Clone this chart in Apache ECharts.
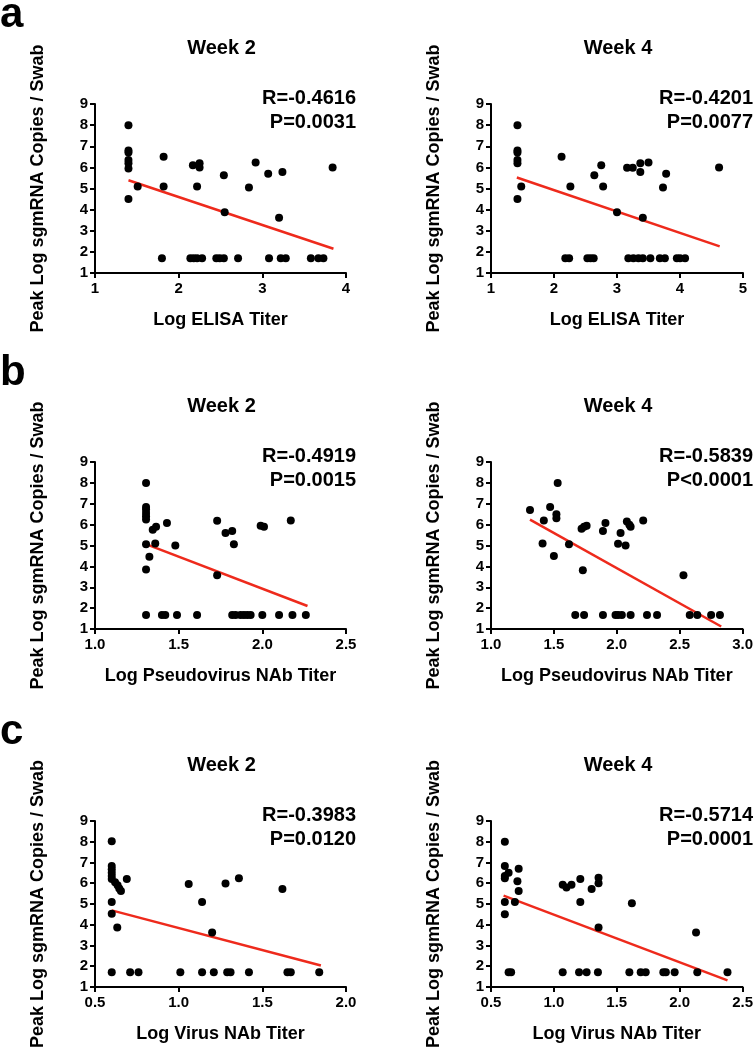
<!DOCTYPE html>
<html><head><meta charset="utf-8">
<script src="https://cdn.jsdelivr.net/npm/echarts@6/dist/echarts.min.js"></script>
<style>html,body{margin:0;padding:0;background:#fff}#c{width:756px;height:1050px}</style>
</head><body><div id="c"></div>
<script>
// ---- Data ----
const yTitle = 'Peak Log sgmRNA Copies / Swab';

// a: ELISA, Week 2
const aW2X = [1.40,1.40,1.40,1.40,1.40,1.40,1.40,1.51,1.82,1.82,1.80,2.17,2.25,2.25,2.22,2.14,2.18,2.22,2.28,2.54,2.55,2.45,2.49,2.54,2.71,2.84,2.92,3.07,3.08,3.24,3.20,3.22,3.28,3.58,3.67,3.73,3.84];
const aW2Y = [8.0,6.8,6.7,6.35,6.2,5.95,4.5,5.1,6.5,5.1,1.7,6.1,6.2,6.0,5.1,1.7,1.7,1.7,1.7,5.63,3.87,1.7,1.7,1.7,1.7,5.05,6.23,5.7,1.7,5.78,3.62,1.7,1.7,1.7,1.7,1.7,6.0];
const aW2Fit = [[1.40,5.39],[3.85,2.15]];
// a: ELISA, Week 4
const aW4X = [1.42,1.42,1.42,1.42,1.42,1.42,1.48,2.12,2.26,2.18,2.24,2.53,2.58,2.63,2.64,2.75,2.78,3.00,3.16,3.25,3.37,3.37,3.50,3.41,3.18,3.26,3.34,3.41,3.53,3.68,3.76,3.73,3.78,3.95,4.00,4.08,4.62];
const aW4Y = [8.0,6.8,6.7,6.35,6.2,4.5,5.1,6.5,5.1,1.7,1.7,1.7,1.7,1.7,5.63,6.1,5.1,3.87,5.98,5.98,6.2,5.78,6.23,3.62,1.7,1.7,1.7,1.7,1.7,1.7,1.7,5.05,5.7,1.7,1.7,1.7,6.0];
const aW4Fit = [[1.41,5.52],[4.63,2.26]];

// b: Pseudovirus NAb, Week 2
const bW2X = [1.305,1.305,1.305,1.305,1.305,1.305,1.305,1.305,1.305,1.325,1.345,1.365,1.36,1.43,1.48,1.40,1.42,1.49,1.61,1.73,1.73,1.78,1.82,1.83,1.82,1.84,1.87,1.89,1.91,1.93,1.99,2.01,2.00,2.10,2.17,2.18,2.26];
const bW2Y = [8.0,6.85,6.72,6.56,6.4,6.24,5.06,3.85,1.67,4.46,5.76,5.9,5.1,6.08,5.0,1.67,1.67,1.67,1.67,6.18,3.58,5.6,5.7,5.06,1.67,1.67,1.67,1.67,1.67,1.67,5.95,5.9,1.67,1.67,6.2,1.67,1.67];
const bW2Fit = [[1.32,5.02],[2.27,2.10]];
// b: Pseudovirus NAb, Week 4
const bW4X = [1.31,1.42,1.41,1.47,1.50,1.52,1.52,1.53,1.62,1.67,1.74,1.72,1.74,1.76,1.73,1.89,1.91,1.89,1.99,2.01,2.04,2.01,2.03,2.07,2.08,2.10,2.11,2.11,2.21,2.24,2.32,2.53,2.58,2.64,2.75,2.82];
const bW4Y = [6.7,6.2,5.1,6.85,4.5,6.5,6.3,8.0,5.06,1.67,1.67,5.8,5.9,5.95,3.82,5.7,6.08,1.67,1.67,1.67,1.67,5.08,5.6,5.0,6.15,6.0,5.9,1.67,6.2,1.67,1.67,3.58,1.67,1.67,1.67,1.67];
const bW4Fit = [[1.31,6.24],[2.83,1.12]];

// c: Virus NAb, Week 2
const cW2X = [0.60,0.60,0.60,0.60,0.60,0.60,0.60,0.60,0.633,0.62,0.635,0.645,0.655,0.69,0.60,0.71,0.76,1.06,1.14,1.20,1.28,1.36,1.62,1.01,1.14,1.21,1.29,1.31,1.42,1.65,1.67,1.84];
const cW2Y = [8.02,6.83,6.67,6.5,6.35,6.2,5.09,4.53,3.87,6.05,5.9,5.75,5.63,6.2,1.71,1.71,1.71,5.96,5.09,3.63,5.99,6.24,5.72,1.71,1.71,1.71,1.71,1.71,1.71,1.71,1.71,1.71];
const cW2Fit = [[0.60,4.69],[1.85,2.03]];
// c: Virus NAb, Week 4
const cW4X = [0.61,0.61,0.64,0.61,0.61,0.61,0.61,0.69,0.72,0.71,0.72,0.64,0.66,1.07,1.10,1.14,1.21,1.21,1.30,1.355,1.355,1.355,1.07,1.20,1.26,1.35,1.60,1.62,1.69,1.73,1.87,1.89,1.96,2.13,2.14,2.38];
const cW4Y = [8.0,6.83,6.5,6.35,6.24,5.09,4.5,5.09,6.7,6.1,5.63,1.71,1.71,5.93,5.8,5.93,6.2,5.09,5.72,6.27,6.0,3.87,1.71,1.71,1.71,1.71,1.71,5.04,1.71,1.71,1.71,1.71,1.71,3.62,1.71,1.71];
const cW4Fit = [[0.60,5.40],[2.38,1.32]];

const yTicks = {min:1, max:9, interval:1};
const panelLetters = ['a','b','c'];
const weekTitles = ['Week 2','Week 4'];
const stats = [['R=-0.4616','P=0.0031'],['R=-0.4201','P=0.0077'],
               ['R=-0.4919','P=0.0015'],['R=-0.5839','P<0.0001'],
               ['R=-0.3983','P=0.0120'],['R=-0.5714','P=0.0001']];
const xTitles = ['Log ELISA Titer','Log Pseudovirus NAb Titer','Log Virus NAb Titer'];
const xRanges = [[1,4,1,0],[1,5,1,0],[1,2.5,0.5,1],[1,3,0.5,1],[0.5,2,0.5,1],[0.5,2.5,0.5,1]];

const panels = [
  {x:aW2X,y:aW2Y,fit:aW2Fit},{x:aW4X,y:aW4Y,fit:aW4Fit},
  {x:bW2X,y:bW2Y,fit:bW2Fit},{x:bW4X,y:bW4Y,fit:bW4Fit},
  {x:cW2X,y:cW2Y,fit:cW2Fit},{x:cW4X,y:cW4Y,fit:cW4Fit}
];

// ---- Layout ----
const FONT = '"Liberation Sans", Arial, Helvetica, sans-serif';
const colLeft = [95, 491];
const colWidth = [251, 252];
const rowTop = [104, 462, 821];
const rowHeight = [169, 167, 170];
const statRight = [356, 753];

const grids = [], xAxes = [], yAxes = [], series = [], graphics = [];
panels.forEach((p, i) => {
  const r = Math.floor(i/2), c = i%2;
  grids.push({left: colLeft[c], top: rowTop[r], width: colWidth[c], height: rowHeight[r], containLabel:false});
  const xr = xRanges[i];
  const axisCommon = {
    axisLine:{show:true, onZero:false, lineStyle:{color:'#000', width:2}},
    axisTick:{show:true, length:5, lineStyle:{color:'#000', width:2}},
    splitLine:{show:false},
  };
  xAxes.push(Object.assign({}, axisCommon, {
    gridIndex:i, type:'value', min:xr[0], max:xr[1], interval:xr[2],
    axisLabel:{color:'#000', fontFamily:FONT, fontWeight:'bold', fontSize:15, margin:8,
      formatter: v => v.toFixed(xr[3])},
    name: xTitles[r], nameLocation:'middle', nameGap:38,
    nameTextStyle:{color:'#000', fontFamily:FONT, fontWeight:'bold', fontSize:18}
  }));
  yAxes.push(Object.assign({}, axisCommon, {
    gridIndex:i, type:'value', min:yTicks.min, max:yTicks.max, interval:yTicks.interval,
    axisLabel:{color:'#000', fontFamily:FONT, fontWeight:'bold', fontSize:15, margin:7},
    name: yTitle, nameLocation:'middle', nameGap:48, nameRotate:90,
    nameTextStyle:{color:'#000', fontFamily:FONT, fontWeight:'bold', fontSize:18}
  }));
  series.push({
    type:'scatter', xAxisIndex:i, yAxisIndex:i,
    data: p.x.map((v,k)=>[v, p.y[k]]),
    symbol:'circle', symbolSize:8, itemStyle:{color:'#000', opacity:1}, silent:true, z:3
  });
  series.push({
    type:'line', xAxisIndex:i, yAxisIndex:i, data:p.fit,
    symbol:'none', lineStyle:{color:'#ee2a1c', width:2.5}, silent:true, z:2
  });
  // week title
  graphics.push({type:'text', x: colLeft[c] + colWidth[c]/2 + 1, y: rowTop[r] - 56,
    style:{text: weekTitles[c], font:'bold 20px ' + FONT, fill:'#000',
      textAlign:'center', textVerticalAlign:'middle'}});
  // stats
  graphics.push({type:'text', right: 756 - statRight[c], top: rowTop[r] - 18,
    style:{text: stats[i][0] + '\n' + stats[i][1], font:'bold 20px ' + FONT, fill:'#000',
      textAlign:'right', lineHeight:24}});
});
panelLetters.forEach((L, r) => {
  graphics.push({type:'text', left:0, top: rowTop[r] - 110,
    style:{text:L, font:'bold 42px ' + FONT, fill:'#000'}});
});

const chart = echarts.init(document.getElementById('c'), null, {renderer:'canvas'});
chart.setOption({
  animation:false,
  backgroundColor:'#fff',
  grid: grids, xAxis: xAxes, yAxis: yAxes, series: series, graphic: graphics
});
</script>
</body></html>
